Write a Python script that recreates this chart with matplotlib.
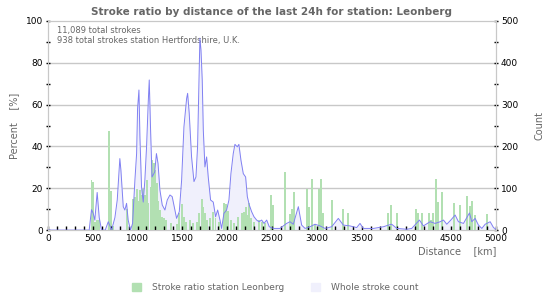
import matplotlib.pyplot as plt
import numpy as np
from matplotlib.patches import Patch
from matplotlib.ticker import MultipleLocator

# whole stroke count (blue line), distance km / count
count_km = [0, 450, 461, 487, 506, 524, 550, 573, 599, 640, 674, 711, 748, 774, 803, 815, 841, 859,
            878, 896, 922, 945, 971, 990, 1001, 1016, 1027, 1045, 1064, 1082, 1101, 1120, 1131,
            1146, 1162, 1192, 1211, 1229, 1250, 1276, 1306, 1332, 1362, 1387, 1406, 1436, 1466,
            1492, 1518, 1548, 1559, 1577, 1603, 1630, 1652, 1670, 1685, 1696, 1708, 1722, 1734,
            1752, 1771, 1789, 1815, 1845, 1871, 1894, 1920, 1938, 1964, 1994, 2020, 2042, 2068,
            2087, 2113, 2131, 2154, 2180, 2206, 2225, 2247, 2273, 2299, 2329, 2355, 2385, 2411,
            2441, 2470, 2515, 2589, 2664, 2701, 2738, 2794, 2831, 2869, 2925, 2980, 3036, 3092,
            3166, 3240, 3296, 3370, 3445, 3482, 3519, 3631, 3743, 3799, 3836, 3892, 4004, 4059,
            4145, 4189, 4264, 4320, 4376, 4413, 4450, 4495, 4543, 4580, 4636, 4703, 4729, 4766,
            4803, 4841, 4878, 4934, 4971, 5000]
count_val = [0, 0, 0, 49, 40, 24, 90, 30, 0, 0, 20, 0, 30, 72, 171, 143, 56, 48,
             64, 24, 0, 16, 119, 183, 291, 335, 223, 103, 67, 119, 199, 307, 359,
             239, 127, 139, 183, 159, 96, 60, 48, 72, 84, 80, 60, 28, 44,
             119, 247, 315, 327, 279, 175, 116, 127, 199, 343, 459, 431, 359, 239,
             151, 175, 127, 72, 67, 32, 48, 24, 4, 40, 48, 72, 135, 183,
             205, 199, 205, 167, 135, 127, 80, 60, 44, 32, 24, 20, 24, 16,
             24, 8, 4, 4, 16, 20, 14, 56, 12, 4, 8, 14, 10, 4,
             8, 28, 12, 10, 6, 16, 4, 4, 8, 12, 14, 4, 2, 4,
             24, 10, 20, 16, 20, 24, 14, 24, 36, 20, 16, 41, 20, 28,
             12, 4, 14, 20, 6, 2]

# stroke ratio station Leonberg (green bars), distance km / percent
ratio_km = [487, 506, 524, 550, 572, 685, 707, 730, 885, 952, 970, 990, 1008, 1027, 1045, 1064,
            1082, 1101, 1120, 1146, 1162, 1183, 1198, 1213, 1230, 1250, 1272, 1299, 1320, 1370,
            1436, 1466, 1492, 1515, 1540, 1585, 1620, 1660, 1685, 1715, 1735, 1755, 1780, 1810,
            1845, 1870, 1905, 1964, 1985, 2009, 2045, 2080, 2120, 2165, 2185, 2206, 2225, 2247,
            2270, 2300, 2351, 2385, 2420, 2489, 2510, 2641, 2701, 2727, 2745, 2894, 2915, 2943,
            2985, 3028, 3047, 3068, 3166, 3289, 3345, 3791, 3825, 3892, 4107, 4130, 4174, 4249,
            4270, 4293, 4327, 4348, 4394, 4525, 4599, 4673, 4710, 4729, 4770, 4896]
ratio_pct = [23.9, 22.8, 4, 4.8, 5, 47.5, 18.5, 2, 10, 15, 15.8, 19.8, 14, 19, 16.6, 19.8,
             16.6, 23.9, 13, 20.6, 33.5, 32, 28.7, 22.3, 14, 9.6, 6.4, 5.6, 4.8, 3.2,
             2.9, 8, 12.4, 6.4, 4, 4.8, 3.2, 4, 8, 15, 11, 8, 4.8, 5.6,
             8.8, 6, 4, 13, 12.6, 9, 4.8, 3.2, 6.4, 8.3, 8.8, 11, 7, 13,
             5.6, 4, 4.8, 4, 3.2, 16.6, 12, 27.9, 7.5, 10, 18.3, 19.8, 11, 24.6,
             3, 19.8, 24.6, 8.3, 14.4, 10, 8.3, 8.3, 11.8, 8.3, 10, 8.3, 8.3, 8.3,
             5, 8.3, 24.6, 13.4, 18.3, 12.9, 12, 16.3, 11.5, 14, 7, 7.5]

total_text = "11,089 total strokes\n938 total strokes station Hertfordshire, U.K."

green = "#b2e0b2"
fill_c = "#f0f0fc"
line_c = "#8080f2"
grey = "#666666"

plt.rcParams['font.family'] = ['DejaVu Sans']

fig = plt.figure(figsize=(5.5, 3), dpi=100)
ax = fig.add_axes([0.087, 0.233, 0.815, 0.697])
ax_cnt = ax.twinx()
ax_line = ax.twinx()
ax_cnt.set_zorder(1)
ax.set_zorder(2)
ax_line.set_zorder(3)
ax.patch.set_visible(False)
ax_line.patch.set_visible(False)

ax_cnt.fill_between(count_km, count_val, 0, color=fill_c, lw=0)
ax.bar(ratio_km, ratio_pct, width=22, color=green, align='center', lw=0)
ax_line.plot(count_km, count_val, color=line_c, lw=0.7)

ax.set_xlim(0, 5000)
ax.set_ylim(0, 100)
ax_cnt.set_ylim(0, 500)
ax_line.set_ylim(0, 500)
ax_line.axis('off')

for y in [20, 40, 60, 80]:
    ax_cnt.axhline(y * 5, color="#c8c8c8", lw=1, zorder=0)

for a in [ax, ax_cnt]:
    for s in a.spines.values():
        s.set_color("#c8c8c8")

ax.xaxis.set_major_locator(MultipleLocator(500))
ax.xaxis.set_minor_locator(MultipleLocator(100))
ax.yaxis.set_major_locator(MultipleLocator(20))
ax.yaxis.set_minor_locator(MultipleLocator(10))
ax_cnt.yaxis.set_major_locator(MultipleLocator(100))
ax_cnt.yaxis.set_minor_locator(MultipleLocator(50))
ax.tick_params(axis='x', which='both', direction='in', length=3, width=1, labelsize=6.5, pad=3)
ax.tick_params(axis='y', which='both', direction='inout', length=3, width=1, labelsize=6.5, pad=2)
ax_cnt.tick_params(axis='y', which='both', direction='inout', length=3, width=1, labelsize=6.5, pad=2)

ax.set_ylabel("Percent    [%]", color=grey, fontsize=7, labelpad=5)
ax_cnt.set_ylabel("Count", color=grey, fontsize=7, labelpad=12)
ax.set_xlabel("Distance    [km]", color=grey, fontsize=7, loc='right', labelpad=2)
ax.set_title("Stroke ratio by distance of the last 24h for station: Leonberg",
             fontsize=7.5, fontweight='bold', color=grey, pad=4)

ax.text(0.02, 0.975, total_text, transform=ax.transAxes, fontsize=6, color=grey,
        va='top', ha='left', linespacing=1.15)

handles = [Patch(color=green), Patch(color=fill_c)]
fig.legend(handles, ["Stroke ratio station Leonberg", "Whole stroke count"],
           loc='lower center', bbox_to_anchor=(0.5, 0.0), ncol=2, frameon=False,
           fontsize=6.5, handlelength=1.0, handleheight=1.0, columnspacing=3,
           labelcolor=grey, handletextpad=1.2)

fig.savefig("out.png", dpi=100)
